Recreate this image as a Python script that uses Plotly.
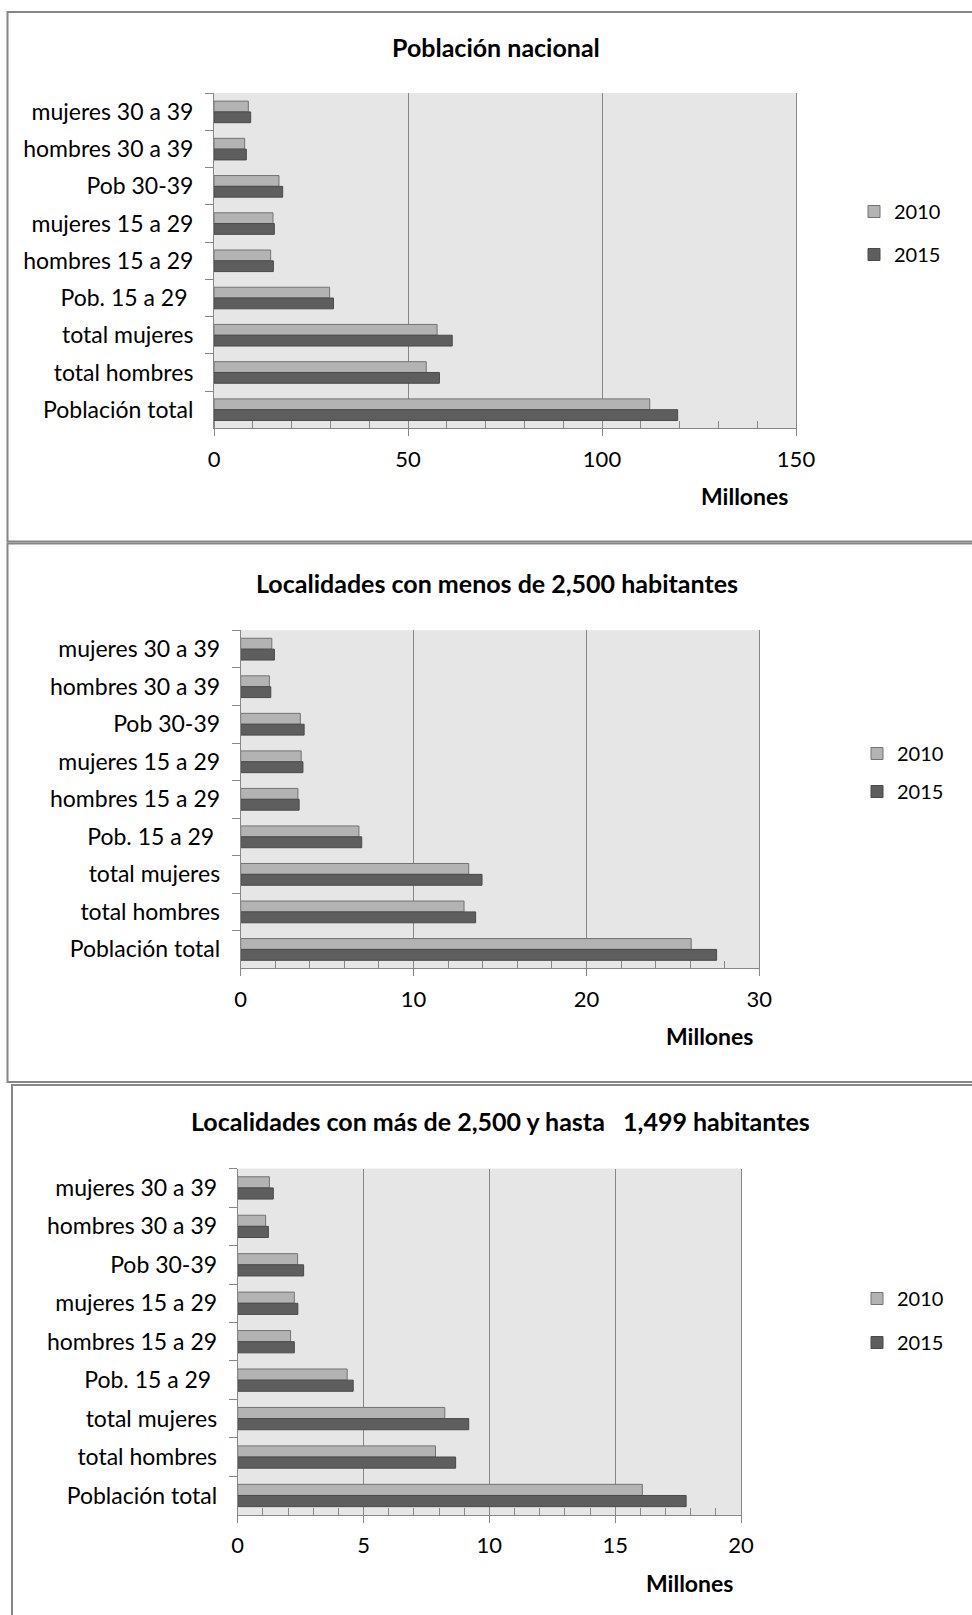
import plotly.graph_objects as go

# Category labels, listed from top to bottom as they appear on each chart
categorias = [
    "mujeres 30 a 39",
    "hombres 30 a 39",
    "Pob 30-39",
    "mujeres 15 a 29",
    "hombres 15 a 29",
    "Pob. 15 a 29\u00a0",
    "total mujeres",
    "total hombres",
    "Población total",
]

# Población nacional (millones)
nacional_2010 = [8.85, 7.9, 16.75, 15.2, 14.6, 29.8, 57.5, 54.7, 112.3]
nacional_2015 = [9.45, 8.33, 17.7, 15.55, 15.3, 30.8, 61.4, 58.1, 119.5]

# Localidades con menos de 2,500 habitantes (millones)
rural_2010 = [1.80, 1.66, 3.45, 3.50, 3.31, 6.84, 13.19, 12.92, 26.06]
rural_2015 = [1.95, 1.74, 3.67, 3.60, 3.38, 7.00, 13.96, 13.59, 27.53]

# Localidades con más de 2,500 y hasta 1,499 habitantes (millones)
semi_2010 = [1.26, 1.11, 2.38, 2.25, 2.10, 4.35, 8.23, 7.86, 16.08]
semi_2015 = [1.415, 1.22, 2.62, 2.39, 2.25, 4.59, 9.18, 8.66, 17.82]

titulos = [
    "Población nacional",
    "Localidades con menos de 2,500 habitantes",
    "Localidades con más de 2,500 y hasta\u00a0\u00a0 1,499 habitantes",
]
anios = ["2010", "2015"]
rangos_x = [[0, 150], [0, 30], [0, 20]]
dtick_x = [50, 10, 5]
dtick_menor = [10, 2, 1]

W, H = 972, 1615
FONT = "Lato, 'Open Sans', sans-serif"
GRIS_FONDO = "#e6e6e6"
GRIS_LINEA = "#878787"
COLOR_2010 = "#b3b3b3"
BORDE_2010 = "#737373"
COLOR_2015 = "#5e5e5e"
BORDE_2015 = "#4a4a4a"


def px_x(v):
    return v / W


def px_y(v):
    return 1 - v / H


# plot areas in pixels: (left, right, top, bottom)
areas = [
    (214, 796, 93.3, 428.3),
    (240.7, 759.3, 630.4, 968.2),
    (237.7, 741, 1168.7, 1514.7),
]
# chart frames in pixels: (left, right, top, bottom)
marcos = [
    (7.5, 990, 12, 541.5),
    (7.5, 990, 543.5, 1082),
    (12, 990, 1085, 1640),
]
centros_titulo = [(496, 47), (497, 583), (500, 1121)]
pos_millones = [(744, 496), (709, 1036), (689, 1583)]
# legend placement: (left px, top px, gap between entries)
leyendas = [(854, 192, 14), (857, 734, 9), (857, 1279, 15)]

series = [
    (nacional_2010, nacional_2015),
    (rural_2010, rural_2015),
    (semi_2010, semi_2015),
]

fig = go.Figure()
layout = {}
for i, (s2010, s2015) in enumerate(series):
    n = "" if i == 0 else str(i + 1)
    leg = "legend" + n
    for anio, vals, fill, borde in (
        (anios[0], s2010, COLOR_2010, BORDE_2010),
        (anios[1], s2015, COLOR_2015, BORDE_2015),
    ):
        fig.add_trace(
            go.Bar(
                x=vals,
                y=categorias,
                orientation="h",
                name=anio,
                legendgroup=anio + n,
                legend=leg,
                marker=dict(color=fill, line=dict(color=borde, width=1)),
                xaxis="x" + n,
                yaxis="y" + n,
                hoverinfo="x+y+name",
            )
        )

    l, r, t, b = areas[i]
    layout["xaxis" + n] = dict(
        domain=[px_x(l), px_x(r)],
        anchor="y" + n,
        range=rangos_x[i],
        dtick=dtick_x[i],
        tick0=0,
        showgrid=True,
        gridcolor=GRIS_LINEA,
        gridwidth=1,
        zeroline=False,
        showline=True,
        linecolor=GRIS_LINEA,
        linewidth=1,
        ticks="outside",
        ticklen=7,
        tickcolor=GRIS_LINEA,
        ticklabelstandoff=4,
        minor=dict(
            dtick=dtick_menor[i],
            tick0=0,
            ticks="inside",
            ticklen=7,
            tickcolor=GRIS_LINEA,
            showgrid=False,
        ),
        tickfont=dict(family=FONT, size=22, color="#000000"),
        fixedrange=True,
    )
    layout["yaxis" + n] = dict(
        domain=[px_y(b), px_y(t)],
        anchor="x" + n,
        type="category",
        autorange="reversed",
        tickson="boundaries",
        showgrid=False,
        zeroline=False,
        showline=True,
        mirror=True,
        linecolor=GRIS_LINEA,
        linewidth=1,
        ticks="outside",
        ticklen=8,
        tickcolor=GRIS_LINEA,
        ticklabelstandoff=15,
        tickfont=dict(family=FONT, size=23, color="#000000"),
        fixedrange=True,
    )
    lx, ly, gap = leyendas[i]
    layout[leg] = dict(
        x=px_x(lx),
        y=px_y(ly),
        xanchor="left",
        yanchor="top",
        traceorder="grouped",
        tracegroupgap=gap,
        bgcolor="rgba(0,0,0,0)",
        font=dict(family=FONT, size=20, color="#000000"),
    )

shapes = []
annotations = []
for i in range(3):
    l, r, t, b = areas[i]
    # light grey plot background
    shapes.append(
        dict(
            type="rect",
            xref="paper",
            yref="paper",
            x0=px_x(l),
            x1=px_x(r),
            y0=px_y(b),
            y1=px_y(t),
            fillcolor=GRIS_FONDO,
            line=dict(width=0),
            layer="below",
        )
    )
    fl, fr, ft, fb = marcos[i]
    shapes.append(
        dict(
            type="rect",
            xref="paper",
            yref="paper",
            x0=px_x(fl),
            x1=px_x(fr),
            y0=px_y(fb),
            y1=px_y(ft),
            line=dict(color="#868686", width=2),
            layer="above",
        )
    )
    cx, cy = centros_titulo[i]
    annotations.append(
        dict(
            text="<b>" + titulos[i] + "</b>",
            x=px_x(cx),
            y=px_y(cy),
            xref="paper",
            yref="paper",
            xanchor="center",
            yanchor="middle",
            showarrow=False,
            font=dict(family=FONT, size=25, color="#000000"),
        )
    )
    mx, my = pos_millones[i]
    annotations.append(
        dict(
            text="<b>Millones</b>",
            x=px_x(mx),
            y=px_y(my),
            xref="paper",
            yref="paper",
            xanchor="center",
            yanchor="middle",
            showarrow=False,
            font=dict(family=FONT, size=23, color="#000000"),
        )
    )

fig.update_layout(
    width=W,
    height=H,
    margin=dict(l=0, r=0, t=0, b=0, autoexpand=False),
    paper_bgcolor="#ffffff",
    plot_bgcolor=GRIS_FONDO,
    barmode="group",
    bargap=0.42,
    bargroupgap=0,
    showlegend=True,
    shapes=shapes,
    annotations=annotations,
    **layout,
)

fig.write_html("out.html")
